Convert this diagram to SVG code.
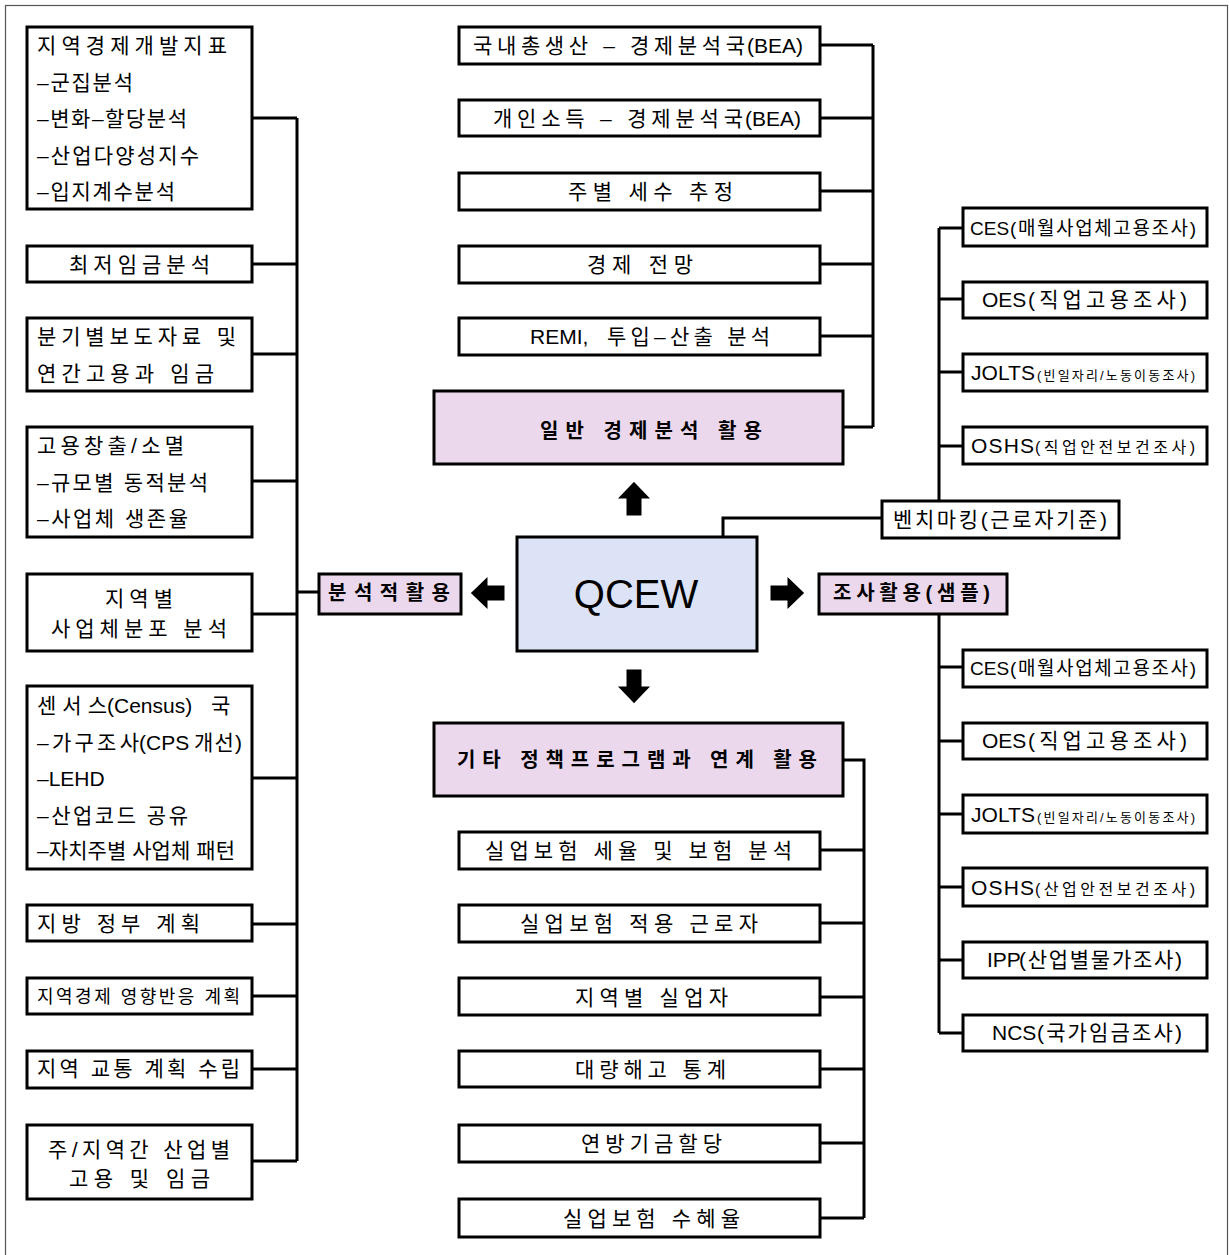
<svg xmlns="http://www.w3.org/2000/svg" width="1229" height="1255" viewBox="0 0 1229 1255">
<style>
.b{fill:#fff;stroke:#000;stroke-width:3}
.p{fill:#ecd8ec;stroke:#000;stroke-width:3}
.q{fill:#dde3f6;stroke:#000;stroke-width:3}
text{font-family:'Liberation Sans','Noto Sans CJK KR',sans-serif;font-size:21px;fill:#000}
.s{font-size:18px}
.bd{font-weight:bold;font-size:20px}
.c{fill:none;stroke:#000;stroke-width:3;stroke-linejoin:miter}
</style>
<defs>
<path id="arr" d="M0,-15 L12.5,-2 L6,-2 L6,15 L-6,15 L-6,-2 L-12.5,-2 Z" fill="#000"/>
</defs>
<rect x="5.5" y="5.5" width="1222" height="1270" fill="#fff" stroke="#555" stroke-width="1.2"/>

<g id="connectors" class="c">
<path class="c" d="M297,118 V1161 M252,118 H297 M252,264 H297 M252,354 H297 M252,481 H297 M252,614 H297 M252,778 H297 M252,924 H297 M252,996 H297 M252,1069 H297 M252,1161 H297 M297,592 H319"/>
<path class="c" d="M873,45 V427 M820,45 H873 M820,118 H873 M820,191 H873 M820,264 H873 M820,336 H873 M843,427 H873"/>
<path class="c" d="M939,228 V501 M939,228 H963 M939,299 H963 M939,372 H963 M939,446 H963"/>
<path class="c" d="M882,518 H723 V537"/>
<path class="c" d="M939,614 V1033 M939,667 H963 M939,741 H963 M939,814 H963 M939,887 H963 M939,960 H963 M939,1033 H963"/>
<path class="c" d="M843,760 H864 V1218 M820,850 H864 M820,923 H864 M820,997 H864 M820,1069 H864 M820,1143 H864 M820,1218 H864"/>
<use href="#arr" transform="translate(634,499)"/>
<use href="#arr" transform="translate(634,686) rotate(180)"/>
<use href="#arr" transform="translate(488,593) rotate(-90)"/>
<use href="#arr" transform="translate(787,593) rotate(90)"/>
</g>

<g id="qcew"><rect class="q" x="517" y="537" width="240" height="114"/><text x="636" y="608" text-anchor="middle" style="font-size:40px">QCEW</text></g>

<g id="analytic"><rect class="p" x="319" y="574" width="142" height="40"/><text class="bd" x="328" y="600" textLength="122">분석적활용</text></g>
<g id="survey"><rect class="p" x="819" y="574" width="188" height="40"/><text class="bd" x="833" y="600" textLength="157">조사활용(샘플)</text></g>
<g id="general"><rect class="p" x="434" y="391" width="409" height="73"/><text class="bd" x="540" y="438" textLength="222">일반 경제분석 활용</text></g>
<g id="policy"><rect class="p" x="434" y="723" width="409" height="73"/><text class="bd" x="457" y="767" textLength="360">기타 정책프로그램과 연계 활용</text></g>

<g id="l1"><rect class="b" x="27" y="27" width="225" height="182"/>
<text x="37" y="53" textLength="190">지역경제개발지표</text>
<text x="37" y="90" textLength="96">–군집분석</text>
<text x="37" y="126" textLength="150">–변화–할당분석</text>
<text x="37" y="163" textLength="162">–산업다양성지수</text>
<text x="37" y="199" textLength="138">–입지계수분석</text></g>
<g id="l2"><rect class="b" x="27" y="246" width="225" height="36"/><text x="69" y="272" textLength="141">최저임금분석</text></g>
<g id="l3"><rect class="b" x="27" y="318" width="225" height="73"/>
<text x="37" y="344" textLength="199">분기별보도자료 및</text>
<text x="37" y="381" textLength="177">연간고용과 임금</text></g>
<g id="l4"><rect class="b" x="27" y="427" width="225" height="110"/>
<text x="37" y="453" textLength="147">고용창출/소멸</text>
<text x="37" y="490" textLength="171">–규모별 동적분석</text>
<text x="37" y="526" textLength="151">–사업체 생존율</text></g>
<g id="l5"><rect class="b" x="27" y="574" width="225" height="77"/>
<text x="105" y="606" textLength="68">지역별</text>
<text x="51" y="636" textLength="176">사업체분포 분석</text></g>
<g id="l6"><rect class="b" x="27" y="686" width="225" height="183"/>
<text y="713"><tspan x="37" textLength="70">센서스</tspan><tspan x="107">(Census) </tspan><tspan x="211">국</tspan></text>
<text y="750"><tspan x="37" textLength="102">–가구조사</tspan><tspan x="139">(CPS </tspan><tspan x="194" textLength="48">개선)</tspan></text>
<text x="37" y="786">–LEHD</text>
<text x="37" y="823" textLength="151">–산업코드 공유</text>
<text x="37" y="858" textLength="198">–자치주별 사업체 패턴</text></g>
<g id="l7"><rect class="b" x="27" y="905" width="225" height="36"/><text x="37" y="931" textLength="163">지방 정부 계획</text></g>
<g id="l8"><rect class="b" x="27" y="978" width="225" height="36"/><text class="s" x="37" y="1003" textLength="203">지역경제 영향반응 계획</text></g>
<g id="l9"><rect class="b" x="27" y="1051" width="225" height="37"/><text x="37" y="1076" textLength="203">지역 교통 계획 수립</text></g>
<g id="l10"><rect class="b" x="27" y="1125" width="225" height="74"/>
<text x="48" y="1157" textLength="182">주/지역간 산업별</text>
<text x="69" y="1186" textLength="141">고용 및 임금</text></g>

<g id="t1"><rect class="b" x="459" y="27" width="361" height="37"/><text y="53"><tspan x="473" textLength="272">국내총생산 – 경제분석국</tspan><tspan x="747">(BEA)</tspan></text></g>
<g id="t2"><rect class="b" x="459" y="100" width="361" height="36"/><text y="126"><tspan x="493" textLength="250">개인소득 – 경제분석국</tspan><tspan x="745">(BEA)</tspan></text></g>
<g id="t3"><rect class="b" x="459" y="173" width="361" height="37"/><text x="568" y="199" textLength="165">주별 세수 추정</text></g>
<g id="t4"><rect class="b" x="459" y="246" width="361" height="37"/><text x="587" y="272" textLength="106">경제 전망</text></g>
<g id="t5"><rect class="b" x="459" y="318" width="361" height="37"/><text y="344"><tspan x="530">REMI, </tspan><tspan x="607" textLength="163">투입–산출 분석</tspan></text></g>

<g id="bench"><rect class="b" x="882" y="501" width="237" height="37"/><text x="893" y="527" textLength="214">벤치마킹(근로자기준)</text></g>
<g id="r1"><rect class="b" x="963" y="208" width="244" height="38"/><text y="235"><tspan x="970" style="font-size:19px">CES</tspan><tspan x="1010" textLength="186" style="font-size:19px">(매월사업체고용조사)</tspan></text></g>
<g id="r2"><rect class="b" x="963" y="282" width="244" height="36"/><text y="307"><tspan x="982">OES</tspan><tspan x="1028" textLength="159">(직업고용조사)</tspan></text></g>
<g id="r3"><rect class="b" x="963" y="354" width="244" height="37"/><text y="380"><tspan x="971" textLength="64" style="font-size:21px">JOLTS</tspan><tspan x="1037" textLength="158" style="font-size:13px">(빈일자리/노동이동조사)</tspan></text></g>
<g id="r4"><rect class="b" x="963" y="427" width="244" height="37"/><text y="453"><tspan x="971" textLength="63" style="font-size:21px">OSHS</tspan><tspan x="1035" textLength="160" style="font-size:16px">(직업안전보건조사)</tspan></text></g>

<g id="r5"><rect class="b" x="963" y="650" width="244" height="37"/><text y="675"><tspan x="970" style="font-size:19px">CES</tspan><tspan x="1010" textLength="186" style="font-size:19px">(매월사업체고용조사)</tspan></text></g>
<g id="r6"><rect class="b" x="963" y="723" width="244" height="36"/><text y="748"><tspan x="982">OES</tspan><tspan x="1028" textLength="159">(직업고용조사)</tspan></text></g>
<g id="r7"><rect class="b" x="963" y="795" width="244" height="38"/><text y="822"><tspan x="971" textLength="64" style="font-size:21px">JOLTS</tspan><tspan x="1037" textLength="158" style="font-size:13px">(빈일자리/노동이동조사)</tspan></text></g>
<g id="r8"><rect class="b" x="963" y="868" width="244" height="38"/><text y="895"><tspan x="971" textLength="63" style="font-size:21px">OSHS</tspan><tspan x="1035" textLength="160" style="font-size:16px">(산업안전보건조사)</tspan></text></g>
<g id="r9"><rect class="b" x="963" y="942" width="244" height="36"/><text y="967"><tspan x="987">IPP</tspan><tspan x="1019" textLength="163">(산업별물가조사)</tspan></text></g>
<g id="r10"><rect class="b" x="963" y="1015" width="244" height="36"/><text y="1040"><tspan x="992">NCS</tspan><tspan x="1037" textLength="145">(국가임금조사)</tspan></text></g>

<g id="b1"><rect class="b" x="459" y="832" width="361" height="37"/><text x="485" y="858" textLength="307">실업보험 세율 및 보험 분석</text></g>
<g id="b2"><rect class="b" x="459" y="905" width="361" height="37"/><text x="520" y="931" textLength="238">실업보험 적용 근로자</text></g>
<g id="b3"><rect class="b" x="459" y="978" width="361" height="37"/><text x="575" y="1005" textLength="153">지역별 실업자</text></g>
<g id="b4"><rect class="b" x="459" y="1051" width="361" height="36"/><text x="575" y="1077" textLength="151">대량해고 통계</text></g>
<g id="b5"><rect class="b" x="459" y="1125" width="361" height="37"/><text x="581" y="1151" textLength="141">연방기금할당</text></g>
<g id="b6"><rect class="b" x="459" y="1199" width="361" height="38"/><text x="563" y="1226" textLength="177">실업보험 수혜율</text></g>
</svg>
